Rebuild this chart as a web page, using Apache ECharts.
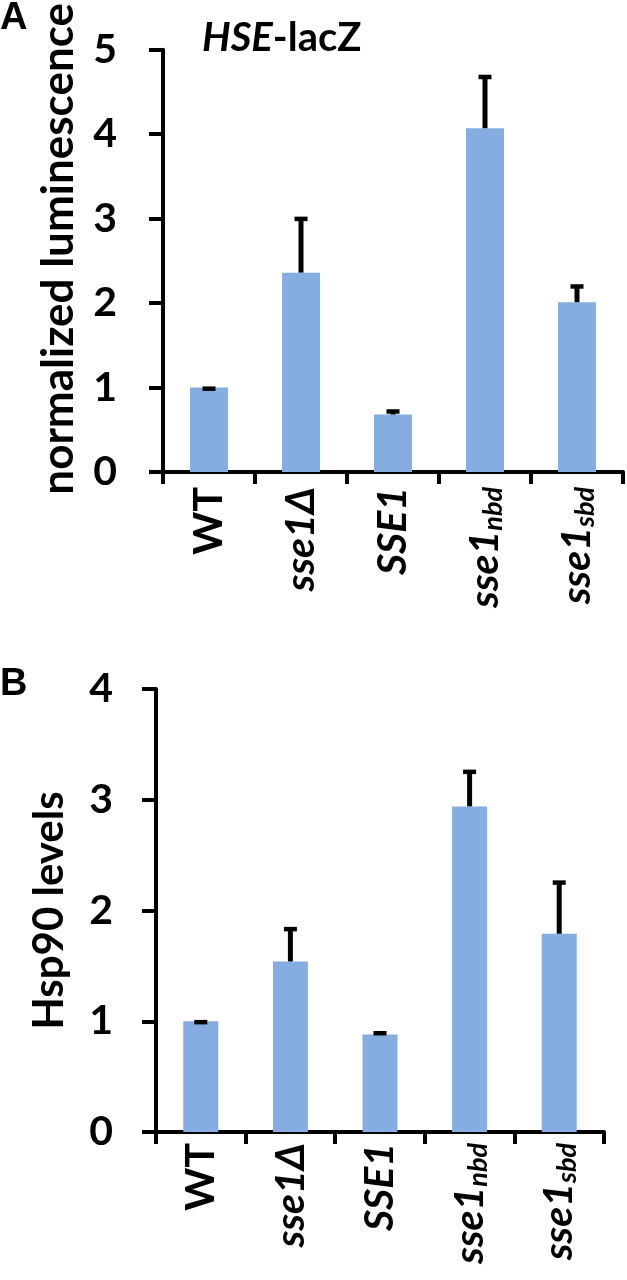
<!DOCTYPE html>
<html>
<head>
<meta charset="utf-8">
<script src="https://cdn.jsdelivr.net/npm/echarts@6/dist/echarts.min.js"></script>
<style>
html,body{margin:0;padding:0;background:#fff;}
#chart{width:627px;height:1280px;}
</style>
</head>
<body>
<div id="chart"></div>
<script>
// ---- data ----
const categories = ['WT', 'sse1Δ', 'SSE1', 'sse1nbd', 'sse1sbd'];
const labelMain = ['WT', 'sse1Δ', 'SSE1', 'sse1', 'sse1'];
const labelSub = ['', '', '', 'nbd', 'sbd'];
const labelItalic = [false, true, true, true, true];

const lucMean = [1.00, 2.36, 0.68, 4.07, 2.01];
const lucErr = [0.01, 0.66, 0.06, 0.63, 0.21];
const lucTicks = [0, 5, 1];          // min, max, interval

const hspMean = [1.00, 1.54, 0.88, 2.94, 1.79];
const hspErr = [0.01, 0.31, 0.03, 0.33, 0.48];
const hspTicks = [0, 4, 1];

const panelTitleA = 'HSE';
const panelTitleA2 = '-lacZ';
const yNameA = 'normalized luminescence';
const yNameB = 'Hsp90 levels';

// ---- styles ----
const FONT = 'Lato, "Open Sans", sans-serif';
const BAR = '#85ADE1';

const catRich = {
  n: { fontFamily: FONT, fontWeight: 'bold', fontSize: 41, color: '#000', lineHeight: 44 },
  i: { fontFamily: FONT, fontWeight: 'bold', fontStyle: 'italic', fontSize: 41, color: '#000', lineHeight: 44 },
  s: { fontFamily: FONT, fontWeight: 'bold', fontStyle: 'italic', fontSize: 27, color: '#000', lineHeight: 26, verticalAlign: 'bottom', padding: [12, 0, 0, 0] }
};
function catFormatter(value, idx) {
  const k = categories.indexOf(value);
  const main = labelMain[k];
  const sub = labelSub[k];
  let s = labelItalic[k] ? '{i|' + main + '}' : '{n|' + main + '}';
  if (sub) s += '{s|' + sub + '}';
  return s;
}

function xAxisCfg(gridIndex, margin) {
  return {
    type: 'category', gridIndex: gridIndex, data: categories,
    axisLine: { lineStyle: { color: '#000', width: 4 } },
    axisTick: { show: true, length: 12, lineStyle: { color: '#000', width: 4 } },
    axisLabel: { interval: 0, rotate: 90, margin: margin, formatter: catFormatter, rich: catRich, color: '#000' },
    splitLine: { show: false }
  };
}
function yAxisCfg(gridIndex, ticks, name, nameSize, gap, margin, pad) {
  return {
    type: 'value', gridIndex: gridIndex, min: ticks[0], max: ticks[1], interval: ticks[2],
    name: name, nameLocation: 'middle', nameGap: gap, nameRotate: 90,
    nameTextStyle: { fontFamily: FONT, fontWeight: 'bold', fontSize: nameSize, color: '#000', padding: pad },
    axisLine: { show: true, lineStyle: { color: '#000', width: 4 } },
    axisTick: { show: true, length: 14, lineStyle: { color: '#000', width: 4 } },
    axisLabel: { fontFamily: FONT, fontWeight: 'bold', fontSize: 41, color: '#000', margin: margin },
    splitLine: { show: false }
  };
}

function errRender(params, api) {
  const x = api.value(0);
  const p0 = api.coord([x, api.value(1)]);
  const p1 = api.coord([x, api.value(2)]);
  return {
    type: 'group',
    children: [
      { type: 'line', shape: { x1: p0[0], y1: p0[1], x2: p1[0], y2: p1[1] + 2 }, style: { stroke: '#000', lineWidth: 5 } },
      { type: 'line', shape: { x1: p1[0] - 6.5, y1: p1[1] + 2, x2: p1[0] + 6.5, y2: p1[1] + 2 }, style: { stroke: '#000', lineWidth: 4.5 } }
    ]
  };
}
function errData(mean, err) {
  return mean.map((m, i) => [i, m, m + err[i]]);
}

const chart = echarts.init(document.getElementById('chart'), null, { renderer: 'canvas' });
chart.setOption({
  backgroundColor: '#fff',
  animation: false,
  grid: [
    { left: 163, top: 37, width: 460, height: 435 },
    { left: 156, top: 689, width: 448, height: 443 }
  ],
  xAxis: [xAxisCfg(0, 15), xAxisCfg(1, 11)],
  yAxis: [
    yAxisCfg(0, lucTicks, yNameA, 44, 82, 46, [0, 0, 0, 24]),
    yAxisCfg(1, hspTicks, yNameB, 42, 86, 43, [0, 0, 0, 0])
  ],
  series: [
    { type: 'bar', xAxisIndex: 0, yAxisIndex: 0, data: lucMean, barWidth: 38, itemStyle: { color: BAR }, z: 2 },
    { type: 'custom', xAxisIndex: 0, yAxisIndex: 0, data: errData(lucMean, lucErr), renderItem: errRender, encode: { x: 0, y: [1, 2] }, z: 3 },
    { type: 'bar', xAxisIndex: 1, yAxisIndex: 1, data: hspMean, barWidth: 35, itemStyle: { color: BAR }, z: 2 },
    { type: 'custom', xAxisIndex: 1, yAxisIndex: 1, data: errData(hspMean, hspErr), renderItem: errRender, encode: { x: 0, y: [1, 2] }, z: 3 }
  ],
  graphic: [
    { type: 'text', left: 0, top: 0, style: { text: 'A', fontFamily: '"Liberation Sans", Arial, sans-serif', fontWeight: 'bold', fontSize: 38, fill: '#000' } },
    { type: 'text', left: 0, top: 666, style: { text: 'B', fontFamily: '"Liberation Sans", Arial, sans-serif', fontWeight: 'bold', fontSize: 38, fill: '#000' } },
    { type: 'text', left: 202, top: 18, style: {
        text: '{i|' + panelTitleA + '}{n|' + panelTitleA2 + '}',
        rich: {
          i: { fontFamily: FONT, fontWeight: 'bold', fontStyle: 'italic', fontSize: 40, fill: '#000' },
          n: { fontFamily: FONT, fontWeight: 'bold', fontSize: 40, fill: '#000' }
        }
    } }
  ]
});
</script>
</body>
</html>
